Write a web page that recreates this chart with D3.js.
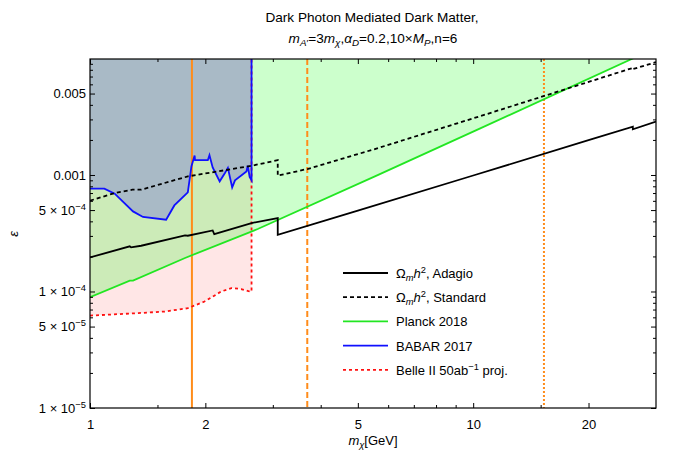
<!DOCTYPE html>
<html>
<head>
<meta charset="utf-8">
<script src="https://cdn.jsdelivr.net/npm/d3@7"></script>
<style>
body { margin: 0; background: #fff; }
text { font-family: "Liberation Sans", Arial, sans-serif; fill: #000; }
</style>
</head>
<body>
<svg id="chart" width="673" height="458"></svg>
<script>
// axis ranges and ticks
var xDomain = [1, 30];
var yDomain = [1e-5, 0.0099];
var xMajor = [1, 2, 5, 10, 20];
var xMinor = [1.5, 3, 4, 6, 7, 8, 9, 15];
var yMajor = [1e-5, 5e-5, 1e-4, 5e-4, 1e-3, 5e-3];
var yMinor = [2e-5, 3e-5, 4e-5, 6e-5, 7e-5, 8e-5, 9e-5,
              2e-4, 3e-4, 4e-4, 6e-4, 7e-4, 8e-4, 9e-4,
              2e-3, 3e-3, 4e-3, 6e-3, 7e-3, 8e-3, 9e-3];
var yLabels = [["1 × 10", "−5"], ["5 × 10", "−5"], ["1 × 10", "−4"], ["5 × 10", "−4"], ["0.001"], ["0.005"]];

// curves, [m_chi (GeV), epsilon]
var adagio = [[1, 1.96e-4], [1.27, 2.44e-4], [1.28, 2.39e-4], [1.36, 2.47e-4], [1.77, 3.03e-4], [1.80, 3.01e-4],
              [2.09, 3.34e-4], [2.11, 3.11e-4], [2.64, 3.87e-4], [3.09, 4.27e-4], [3.09, 3.07e-4], [5, 4.95e-4],
              [10, 9.9e-4], [20, 1.99e-3], [26.1, 2.6e-3], [26.1, 2.47e-3], [30, 2.87e-3]];
var standard = [[1, 6.02e-4], [1.16, 7.0e-4], [1.29, 7.48e-4], [1.36, 7.48e-4], [1.80, 9.73e-4], [2.64, 1.20e-3],
                [3.09, 1.34e-3], [3.09, 9.87e-4], [3.71, 1.13e-3], [5.54, 1.67e-3], [10.4, 3.19e-3],
                [26.1, 8.3e-3], [26.1, 8.1e-3], [30, 9.3e-3]];
var planck = [[1, 8.95e-5], [1.27, 1.24e-4], [1.295, 1.24e-4], [1.77, 1.94e-4], [2.74, 3.44e-4],
              [5.54, 9.73e-4], [10.4, 2.5e-3], [26.1, 1.0e-2], [30, 1.23e-2]];
var babar = [[1, 7.63e-4], [1.09, 7.63e-4], [1.16, 6.91e-4], [1.295, 4.87e-4], [1.375, 4.36e-4], [1.58, 4.13e-4],
             [1.66, 5.48e-4], [1.80, 7.09e-4], [1.84, 1.19e-3], [1.875, 1.47e-3], [1.88, 1.34e-3], [2.03, 1.34e-3],
             [2.05, 1.48e-3], [2.09, 1.16e-3], [2.18, 8.82e-4], [2.25, 1.04e-3], [2.29, 1.15e-3], [2.35, 7.83e-4],
             [2.39, 8.99e-4], [2.56, 1.07e-3], [2.58, 1.20e-3], [2.61, 9.62e-4], [2.64, 8.99e-4], [2.64, 0.0099]];
var belle = [[1, 6.21e-5], [1.335, 6.52e-5], [1.567, 6.73e-5], [1.80, 7.19e-5], [1.99, 8.2e-5], [2.20, 1.0e-4],
             [2.34, 1.07e-4], [2.48, 1.05e-4], [2.61, 1.0e-4], [2.64, 1.0e-4], [2.64, 0.0099]];
var resonanceX = [1.845, 3.69, 15.3];

var legendNames = [
    [["Ω"], ["m", "isub"], ["h", "i"], ["2", "sup"], [", Adagio"]],
    [["Ω"], ["m", "isub"], ["h", "i"], ["2", "sup"], [", Standard"]],
    [["Planck 2018"]],
    [["BABAR 2017"]],
    [["Belle II 50ab"], ["−1", "sup"], [" proj."]]
];

var svg = d3.select("#chart");
var pLeft = 90, pRight = 656, pTop = 59, pBottom = 408;

var x = d3.scaleLog().domain(xDomain).range([pLeft, pRight]);
var y = d3.scaleLog().domain(yDomain).range([pBottom, pTop]);

// rich text with italics / sub / superscripts
function rich(t, parts, size) {
    var shift = 0;
    parts.forEach(function (p) {
        var st = p[1] || "";
        var want = st.indexOf("sub") >= 0 ? 3 : (st.indexOf("sup") >= 0 ? -5 : 0);
        var s = t.append("tspan").text(p[0]);
        if (want !== shift) { s.attr("dy", want - shift); shift = want; }
        if (want !== 0) s.attr("font-size", size * 0.72);
        if (st.indexOf("i") >= 0) s.attr("font-style", "italic");
    });
}

svg.append("defs").append("clipPath").attr("id", "plotclip")
    .append("rect").attr("x", pLeft).attr("y", pTop).attr("width", pRight - pLeft).attr("height", pBottom - pTop);

var plot = svg.append("g").attr("clip-path", "url(#plotclip)");

function upperArea(data) {
    return d3.area()
        .x(function (d) { return x(d[0]); })
        .y0(pTop)
        .y1(function (d) { return y(d[1]); })(data);
}

// exclusion regions
plot.append("path").attr("d", upperArea(belle)).attr("fill", "#ffe6e6");
plot.append("path").attr("d", upperArea(planck)).attr("fill", "rgb(0,255,0)").attr("fill-opacity", 0.2);
plot.append("path").attr("d", upperArea(babar)).attr("fill", "#a9bac6");

// resonance lines
var resDash = [null, "6,3", "2,2"];
resonanceX.forEach(function (v, i) {
    plot.append("line")
        .attr("x1", x(v)).attr("x2", x(v))
        .attr("y1", pTop).attr("y2", pBottom)
        .attr("stroke", "#ff8c1a")
        .attr("stroke-width", 2)
        .attr("stroke-dasharray", resDash[i]);
});

var line = d3.line()
    .x(function (d) { return x(d[0]); })
    .y(function (d) { return y(d[1]); });

var series = [
    { data: adagio, color: "#000", dash: null },
    { data: standard, color: "#000", dash: "4,3" },
    { data: planck, color: "#22e622", dash: null },
    { data: babar, color: "#1010ff", dash: null },
    { data: belle, color: "#ff1010", dash: "3,3" }
];
// belle and babar first so the other lines sit on top where they cross
[4, 3, 2, 1, 0].forEach(function (i) {
    var s = series[i];
    plot.append("path")
        .attr("d", line(s.data))
        .attr("fill", "none")
        .attr("stroke", s.color)
        .attr("stroke-width", 1.8)
        .attr("stroke-dasharray", s.dash);
});

// frame + ticks
var axes = svg.append("g");
function noLabel() { return ""; }

axes.append("g").attr("transform", "translate(0," + pBottom + ")")
    .call(d3.axisBottom(x).tickValues(xMinor).tickSize(-3).tickFormat(noLabel));
axes.append("g").attr("transform", "translate(0," + pBottom + ")")
    .call(d3.axisBottom(x).tickValues(xMajor).tickSize(-5).tickPadding(12).tickFormat(function (d) { return d; }));
axes.append("g").attr("transform", "translate(0," + pTop + ")")
    .call(d3.axisTop(x).tickValues(xMinor).tickSize(-3).tickFormat(noLabel));
axes.append("g").attr("transform", "translate(0," + pTop + ")")
    .call(d3.axisTop(x).tickValues(xMajor).tickSize(-5).tickFormat(noLabel));

axes.append("g").attr("transform", "translate(" + pLeft + ",0)")
    .call(d3.axisLeft(y).tickValues(yMinor).tickSize(-3).tickFormat(noLabel));
var yl = axes.append("g").attr("transform", "translate(" + pLeft + ",0)")
    .call(d3.axisLeft(y).tickValues(yMajor).tickSize(-5).tickPadding(4).tickFormat(noLabel));
axes.append("g").attr("transform", "translate(" + pRight + ",0)")
    .call(d3.axisRight(y).tickValues(yMinor).tickSize(-3).tickFormat(noLabel));
axes.append("g").attr("transform", "translate(" + pRight + ",0)")
    .call(d3.axisRight(y).tickValues(yMajor).tickSize(-5).tickFormat(noLabel));

axes.selectAll(".domain").remove();
axes.selectAll(".tick line").attr("stroke", "#000").attr("stroke-width", 1);
axes.selectAll(".tick text").attr("font-size", 13).attr("font-family", "Liberation Sans, Arial, sans-serif");

yl.selectAll(".tick text").each(function (d, i) {
    var t = d3.select(this).text("");
    var lab = yLabels[i];
    var parts = [[lab[0]]];
    if (lab.length > 1) parts.push([lab[1], "sup"]);
    rich(t, parts, 13);
});

svg.append("rect")
    .attr("x", pLeft).attr("y", pTop)
    .attr("width", pRight - pLeft).attr("height", pBottom - pTop)
    .attr("fill", "none").attr("stroke", "#000").attr("stroke-width", 1.2);

// titles
svg.append("text").attr("x", 372).attr("y", 22).attr("text-anchor", "middle").attr("font-size", 13.6)
    .text("Dark Photon Mediated Dark Matter,");
rich(svg.append("text").attr("x", 373).attr("y", 43).attr("text-anchor", "middle").attr("font-size", 13.6),
    [["m", "i"], ["A", "isub"], ["′", "sub"], ["=3"], ["m", "i"], ["χ", "isub"], [","], ["α", "i"], ["D", "isub"],
     ["=0.2,10×"], ["M", "i"], ["P", "isub"], [",n=6"]], 13.6);

rich(svg.append("text").attr("x", 373).attr("y", 445).attr("text-anchor", "middle").attr("font-size", 13),
    [["m", "i"], ["χ", "isub"], ["[GeV]"]], 13);

svg.append("text")
    .attr("transform", "translate(18,234) rotate(-90)")
    .attr("text-anchor", "middle")
    .attr("font-size", 13)
    .attr("font-style", "italic")
    .text("ε");

// legend
var legend = svg.append("g").attr("transform", "translate(343,273)");
series.forEach(function (s, i) {
    var row = legend.append("g").attr("transform", "translate(0," + (i * 24.2) + ")");
    row.append("line")
        .attr("x1", 0).attr("x2", 45)
        .attr("stroke", s.color)
        .attr("stroke-width", 1.8)
        .attr("stroke-dasharray", s.dash);
    rich(row.append("text").attr("x", 53).attr("y", 5).attr("font-size", 13), legendNames[i], 13);
});
</script>
</body>
</html>
